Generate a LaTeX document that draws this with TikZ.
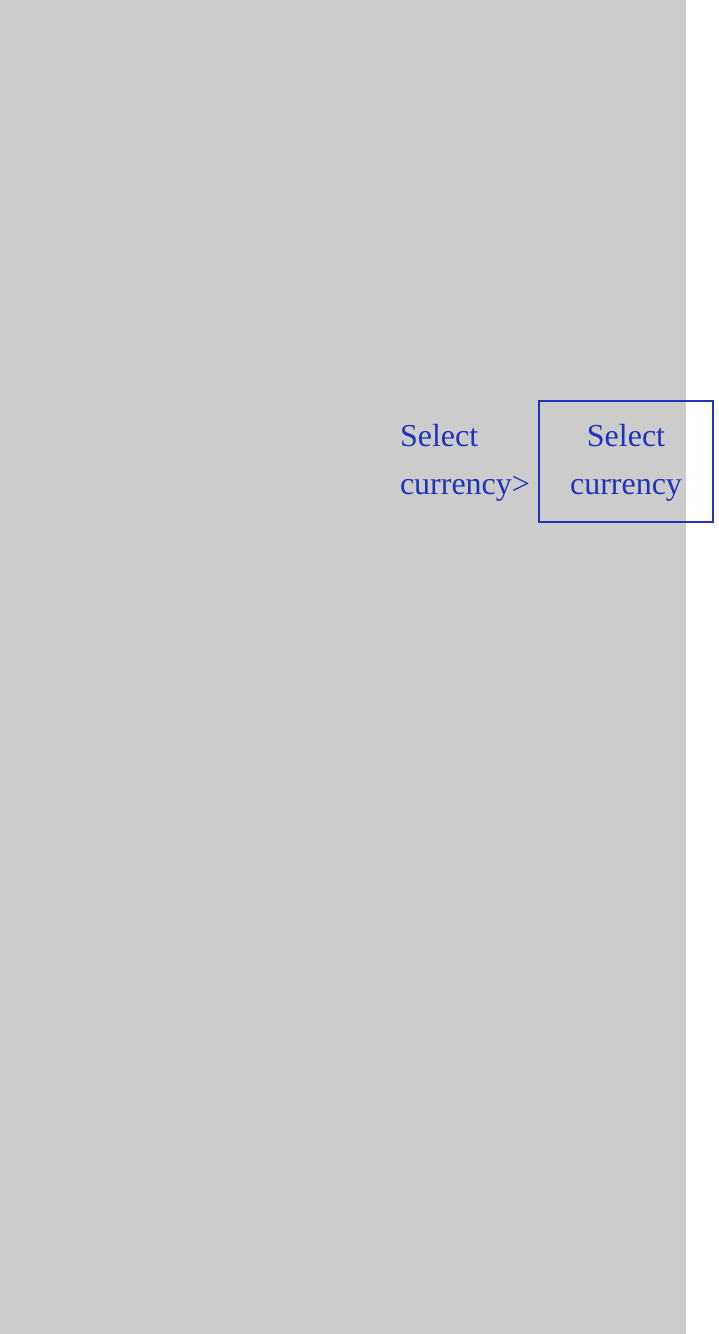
\documentclass[tikz,border=0pt]{standalone}
\usepackage{fontspec}
\setmainfont{Liberation Serif}
\definecolor{bgGray}{RGB}{203,204,203}
\definecolor{txtBlue}{RGB}{34,51,187}
\begin{document}
\begin{tikzpicture}[x=1pt,y=1pt,
  lbl/.style={inner sep=0pt,outer sep=0pt,text=txtBlue,font=\fontsize{32}{48}\selectfont},
  framebox/.style={draw=txtBlue,line width=1.8pt,minimum width=174pt,minimum height=121pt,inner sep=0pt}]
\useasboundingbox (0,0) rectangle (718,-1334);
\fill[bgGray] (0,0) rectangle (686,-1334);
\node[framebox] (box) at (626,-461.7) {};
\node[lbl,anchor=base west] (sel1) at (400,-446) {Select};
\node[lbl,anchor=base west] (cur1) at (400,-494) {currency>};
\node[lbl,anchor=base] (sel2) at (626,-446) {Select};
\node[lbl,anchor=base] (cur2) at (626,-494) {currency};
\end{tikzpicture}
\end{document}
